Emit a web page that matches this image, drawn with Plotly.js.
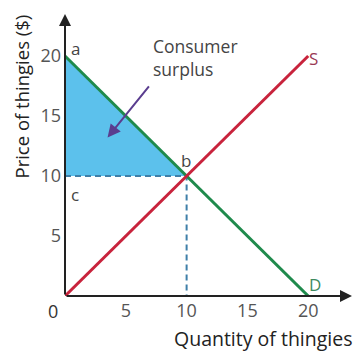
<!DOCTYPE html>
<html><head><meta charset="utf-8">
<script src="https://cdn.plot.ly/plotly-3.0.1.min.js"></script>
<style>html,body{margin:0;padding:0;background:#fff}</style>
</head><body><div id="chart" style="width:358px;height:352px"></div>
<script>
// Data
const demandQ = [0, 20];
const demandP = [20, 0];
const supplyQ = [0, 20];
const supplyP = [0, 20];
const surplusQ = [0, 10, 0, 0];
const surplusP = [20, 10, 10, 20];
const eqQ = 10;
const eqP = 10;
const tickVals = [5, 10, 15, 20];
const tickText = ['5', '10', '15', '20'];

const font = 'Open Sans, sans-serif';
const traces = [
  {x: surplusQ, y: surplusP, mode: 'lines', fill: 'toself', fillcolor: '#5cc1ec',
   line: {width: 0}, hoverinfo: 'skip', showlegend: false},
  {x: [0, eqQ, eqQ], y: [eqP, eqP, 0], mode: 'lines',
   line: {color: '#3f7fa8', width: 2, dash: '6px,4px'}, showlegend: false},
  {x: demandQ, y: demandP, mode: 'lines', line: {color: '#1f8a4c', width: 3}, showlegend: false},
  {x: supplyQ, y: supplyP, mode: 'lines', line: {color: '#c8233c', width: 3}, showlegend: false}
];

const lab = (t, x, y, xa, ya, c, ys) => ({text: t, x: x, y: y, xref: 'x', yref: 'y', xanchor: xa, yanchor: ya,
  yshift: ys || 0, showarrow: false, font: {family: font, size: 17, color: c}});

const layout = {
  width: 358, height: 352,
  margin: {l: 65, r: 6, t: 14, b: 56},
  paper_bgcolor: '#fff', plot_bgcolor: '#fff',
  xaxis: {range: [0, 23.6], showgrid: false, zeroline: false, showline: false,
    tickvals: tickVals, ticktext: tickText, ticks: '', ticklabelstandoff: 2,
    tickfont: {family: font, size: 18, color: '#555'}},
  yaxis: {range: [0, 23.5], showgrid: false, zeroline: false, showline: false,
    tickvals: tickVals, ticktext: tickText, ticks: '', ticklabelstandoff: 3,
    tickfont: {family: font, size: 18, color: '#555'}},
  annotations: [
    // axes with arrowheads
    {x: 23.6, y: 0, ax: 0, ay: 0, xref: 'x', yref: 'y', axref: 'x', ayref: 'y', text: '',
     showarrow: true, arrowhead: 2, arrowsize: 1.2, arrowwidth: 2, arrowcolor: '#222'},
    {x: 0, y: 23.5, ax: 0, ay: 0, xref: 'x', yref: 'y', axref: 'x', ayref: 'y', text: '',
     showarrow: true, arrowhead: 2, arrowsize: 1.2, arrowwidth: 2, arrowcolor: '#222'},
    // consumer surplus pointer
    {x: 3.5, y: 13.2, ax: 7.0, ay: 17.6, xref: 'x', yref: 'y', axref: 'x', ayref: 'y', text: '',
     showarrow: true, arrowhead: 2, arrowsize: 1.3, arrowwidth: 2, arrowcolor: '#5a3d8f'},
    {text: 'Consumer<br>surplus', x: 7.1, y: 22.0, xref: 'x', yref: 'y', xanchor: 'left', yanchor: 'top',
     align: 'left', showarrow: false, font: {family: font, size: 17.5, color: '#444'}},
    lab('a', 0.3, 19.5, 'left', 'bottom', '#444'),
    lab('b', 9.4, 10.2, 'left', 'bottom', '#444'),
    lab('c', 0.35, 9.6, 'left', 'top', '#444'),
    lab('S', 19.9, 19.8, 'left', 'middle', '#9a3a55'),
    lab('D', 19.9, 0, 'left', 'bottom', '#3d8a5f', -2),
    {text: '0', x: 0, y: 0, xref: 'x', yref: 'y', xanchor: 'right', yanchor: 'top', xshift: -5, yshift: -1,
     showarrow: false, font: {family: font, size: 18, color: '#333'}},
    // axis titles
    {text: 'Quantity of thingies', x: 1, y: 0, xref: 'paper', yref: 'paper', xanchor: 'right', yanchor: 'top',
     xshift: 2, yshift: -27, showarrow: false, font: {family: font, size: 19.5, color: '#222'}},
    {text: 'Price of thingies ($)', x: 0, y: 1, xref: 'paper', yref: 'paper', xanchor: 'right', yanchor: 'top',
     xshift: -30, yshift: 2, textangle: -90, showarrow: false, font: {family: font, size: 18.5, color: '#222'}}
  ]
};
Plotly.newPlot('chart', traces, layout, {displayModeBar: false, staticPlot: true});
</script></body></html>
